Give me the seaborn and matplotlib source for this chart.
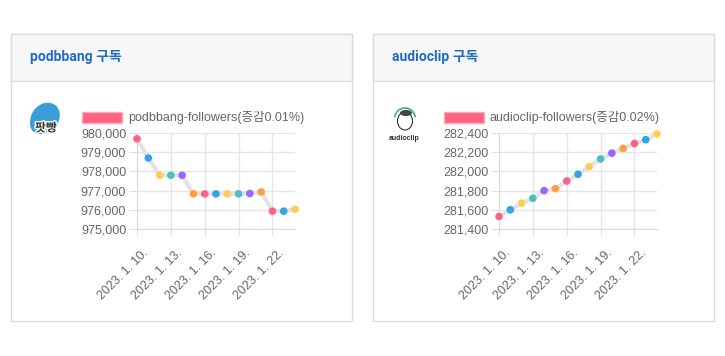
import pandas as pd
import numpy as np
import matplotlib
matplotlib.use('Agg')
import matplotlib.pyplot as plt
import matplotlib.patches as mpatches
import matplotlib.patheffects as pe
from matplotlib.transforms import ScaledTranslation
from matplotlib.ticker import FuncFormatter
import seaborn as sns

sns.set_style('white')
plt.rcParams['font.family'] = ['Liberation Sans', 'Noto Sans CJK KR']

# Datos
days = [10, 11, 12, 13, 14, 15, 16, 17, 18, 19, 20, 21, 22, 23, 24]
tick_days = [10, 13, 16, 19, 22]
podbbang = [979700, 978700, 977800, 977800, 977800, 976830, 976830, 976830,
            976830, 976830, 976850, 976930, 975930, 975930, 976030]
audioclip = [281530, 281600, 281670, 281720, 281800, 281820, 281900, 281970,
             282050, 282130, 282190, 282240, 282290, 282330, 282390]
titles = ['podbbang 구독', 'audioclip 구독']
legends = ['podbbang-followers(증감0.01%)', 'audioclip-followers(증감0.02%)']
ylims = [(975000, 980000), (281400, 282400)]
ysteps = [1000, 200]
palette = ['#ff6384', '#36a2eb', '#ffcd56', '#4bc0c0', '#9966ff', '#ff9f40']

W, H = 725, 356
fig = plt.figure(figsize=(W / 100, H / 100), dpi=100)
inch = fig.dpi_scale_trans


def fx(px):
    return px / W


def fy(py):
    return 1 - py / H


def ip(px, py):
    # pixeles -> pulgadas (para formas sin distorsión)
    return (px / 100, (H - py) / 100)


# Tarjetas
def Card(x0, x1, title):
    body = mpatches.Rectangle((fx(x0), fy(321)), fx(x1 - x0), (321 - 34) / H,
                              transform=fig.transFigure, facecolor='white',
                              edgecolor='#dcdcdc', lw=1, zorder=-2)
    head = mpatches.Rectangle((fx(x0), fy(80.5)), fx(x1 - x0), (80.5 - 34) / H,
                              transform=fig.transFigure, facecolor='#f7f7f7',
                              edgecolor='#dcdcdc', lw=1, zorder=-2)
    fig.patches.extend([body, head])
    fig.text(fx(x0 + 20), fy(57), title, color='#1e6cc8', fontsize=10,
             fontweight='bold', va='center', ha='left',
             family=['Roboto', 'Noto Sans CJK KR'])


Card(10.5, 351.5, titles[0])
Card(372.5, 713.5, titles[1])


def Plot_Chart(left_px, values, ylim, step, legend):
    ax = fig.add_axes([fx(left_px), fy(229), fx(158), 96 / H])
    ax.set_zorder(2)
    ax.patch.set_alpha(0)
    df = pd.DataFrame({'day': days, 'value': values})
    df['c'] = [i % len(palette) for i in range(len(df))]
    sns.lineplot(data=df, x='day', y='value', ax=ax, color='#e3e3e3',
                 lw=3, zorder=2)
    sns.scatterplot(data=df, x='day', y='value', hue='c', palette=palette,
                    ax=ax, s=30, edgecolor='none', legend=False, zorder=3,
                    clip_on=False)
    ax.set_xlim(days[0], days[-1])
    ax.set_ylim(*ylim)
    ax.set_yticks(np.arange(ylim[0], ylim[1] + 1, step))
    ax.set_xticks(tick_days)
    ax.yaxis.set_major_formatter(FuncFormatter(lambda v, p: '{:,.0f}'.format(v)))
    ax.grid(True, color='#e6e6e6', lw=1)
    ax.set_axisbelow(True)
    for s in ['top', 'right']:
        ax.spines[s].set_visible(False)
    for s in ['left', 'bottom']:
        ax.spines[s].set_color('#dadada')
    ax.tick_params(axis='both', colors='#e0e0e0', labelcolor='#666666',
                   labelsize=9, direction='out', left=True, bottom=True)
    ax.tick_params(axis='x', length=4.3, pad=11.5)
    ax.tick_params(axis='y', length=5.8, pad=2)
    ax.set_xticklabels(['2023. 1. {}.'.format(d) for d in tick_days],
                       rotation=45, ha='right', va='center',
                       rotation_mode='anchor')
    shift = ScaledTranslation(10 / 100, 0, fig.dpi_scale_trans)
    for lab in ax.get_xticklabels():
        lab.set_transform(lab.get_transform() + shift)
    ax.set_xlabel('')
    ax.set_ylabel('')
    # leyenda
    rect = mpatches.Rectangle((fx(left_px - 55), fy(123)), fx(40), 11 / H,
                              transform=fig.transFigure, facecolor='#ff6384',
                              edgecolor='#ffa6b8', lw=1)
    fig.patches.append(rect)
    fig.text(fx(left_px - 9), fy(117.5), legend, color='#666666',
             fontsize=9, va='center', ha='left')
    return ax


Plot_Chart(137, podbbang, ylims[0], ysteps[0], legends[0])
Plot_Chart(499, audioclip, ylims[1], ysteps[1], legends[1])

# Iconos
blob = mpatches.Ellipse(ip(45, 118), 0.33, 0.27, angle=50,
                        transform=inch, facecolor='#3a9fd6', edgecolor='none')
blob2 = mpatches.Circle(ip(40, 124), 0.10, transform=inch,
                        facecolor='#3a9fd6', edgecolor='none')
fig.patches.extend([blob, blob2])
fig.text(fx(46), fy(128), '팟빵', fontsize=8.5, fontweight='bold',
         color='#333333', ha='center', va='center',
         family=['Noto Sans CJK KR'],
         path_effects=[pe.withStroke(linewidth=2, foreground='white')])
face = mpatches.Ellipse(ip(405, 121), 0.15, 0.18, transform=inch,
                        facecolor='white', edgecolor='#333333', lw=0.8)
hair = mpatches.Ellipse(ip(406, 113), 0.12, 0.06, transform=inch,
                        facecolor='#444444', edgecolor='none')
phone = mpatches.Arc(ip(405, 119), 0.21, 0.22, theta1=10, theta2=170,
                     transform=inch, color='#3cb371', lw=1.2)
fig.patches.extend([face, hair, phone])
fig.text(fx(404), fy(139), 'audioclip', fontsize=5, fontweight='bold',
         color='#333333', ha='center', va='center')

plt.savefig('out.png', dpi=100)
